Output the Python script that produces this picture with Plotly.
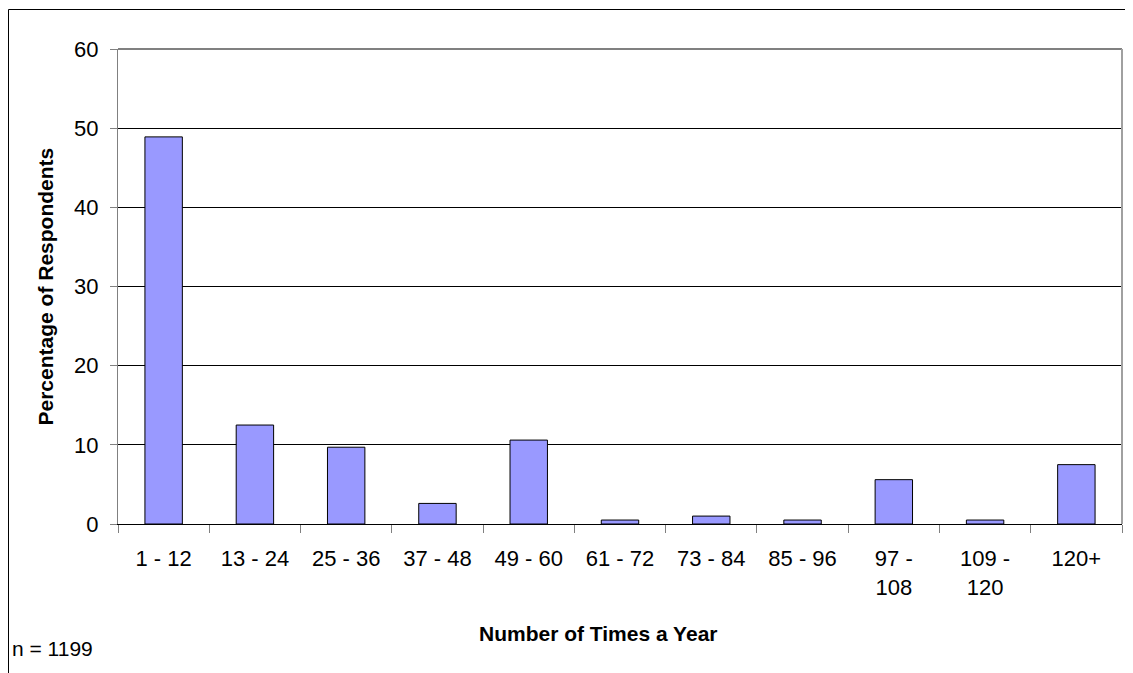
import plotly.graph_objects as go

categories = ["1 - 12", "13 - 24", "25 - 36", "37 - 48", "49 - 60", "61 - 72",
              "73 - 84", "85 - 96", "97 -<br>108", "109 -<br>120", "120+"]
percentages = [48.9, 12.5, 9.7, 2.6, 10.6, 0.5, 1.0, 0.5, 5.6, 0.5, 7.5]

# page has an 8px body margin; figure origin sits at page (8, 8)
OFF = 8
W, H = 1133 - OFF, 673 - OFF
L, R, T, B = 118 - OFF, 11, 49 - OFF, 149
pw, ph = W - L - R, H - T - B

def px_x(p):  # page pixel -> paper
    return (p - OFF - L) / pw

def px_y(p):
    return (H - B - (p - OFF)) / ph

font = "Liberation Sans, Arial, sans-serif"

fig = go.Figure(go.Bar(
    x=categories, y=percentages,
    marker=dict(color="#9999FF", line=dict(color="#000000", width=1)),
    width=0.41,
))

fig.update_layout(
    width=W, height=H,
    margin=dict(l=L, r=R, t=T, b=B, pad=0),
    paper_bgcolor="white", plot_bgcolor="white",
    font=dict(family=font, size=22, color="black"),
    showlegend=False,
    bargap=0.59,
    xaxis=dict(type="category", tickson="boundaries", ticks="outside", ticklen=8,
               tickcolor="#808080", showgrid=False, showline=True, linecolor="black",
               linewidth=1, ticklabelstandoff=15, tickfont=dict(size=22)),
    yaxis=dict(range=[0, 60], dtick=10, ticks="outside", ticklen=7, tickcolor="#808080",
               showgrid=True, gridcolor="black", gridwidth=1, showline=True,
               linecolor="#808080", zeroline=False, ticklabelstandoff=7,
               tickfont=dict(size=22)),
    shapes=[
        dict(type="line", xref="paper", yref="paper", x0=0, x1=1, y0=1, y1=1,
             line=dict(color="#808080", width=2)),
        dict(type="line", xref="paper", yref="paper", x0=1, x1=1, y0=0, y1=1,
             line=dict(color="#a0a0a0", width=2)),
        dict(type="line", xref="paper", yref="paper", x0=px_x(8.5), x1=px_x(1140),
             y0=px_y(9.5), y1=px_y(9.5), line=dict(color="black", width=1)),
        dict(type="line", xref="paper", yref="paper", x0=px_x(8.5), x1=px_x(8.5),
             y0=px_y(9.5), y1=px_y(680), line=dict(color="black", width=1)),
    ],
    annotations=[
        dict(text="<b>Percentage of Respondents</b>", xref="paper", yref="paper",
             x=px_x(45), y=0.5, textangle=-90, showarrow=False,
             font=dict(size=21), xanchor="center", yanchor="middle"),
        dict(text="<b>Number of Times a Year</b>", xref="paper", yref="paper",
             x=px_x(598), y=px_y(633), showarrow=False, font=dict(size=21),
             xanchor="center", yanchor="middle"),
        dict(text="n = 1199", xref="paper", yref="paper", x=px_x(10), y=px_y(648),
             showarrow=False, font=dict(size=21), xanchor="left", yanchor="middle"),
    ],
)

fig.write_html("out.html")
